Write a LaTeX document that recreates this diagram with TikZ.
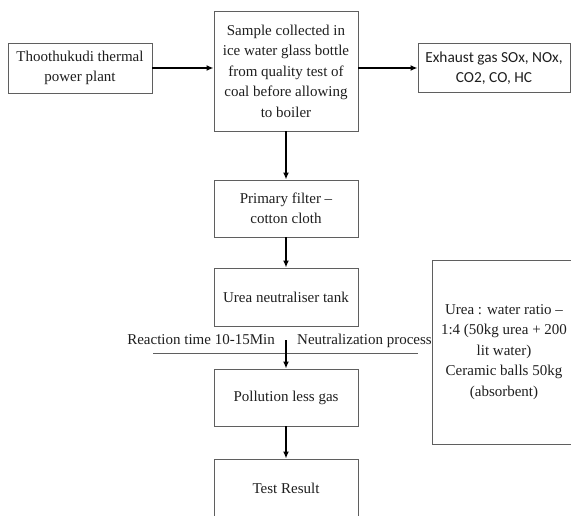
\documentclass[tikz,border=0pt]{standalone}
\usepackage{fontspec}
\setmainfont{Liberation Serif}
\newfontfamily\calibrifont{Carlito}
\definecolor{boxgray}{RGB}{95,95,95}
\definecolor{inkgray}{RGB}{30,30,30}
\usetikzlibrary{arrows.meta,positioning,calc}
\begin{document}
\begin{tikzpicture}[x=0.03cm,y=-0.03cm,
  stage/.style={draw=boxgray,line width=0.7pt,minimum width=4.32cm,align=center,
    text=inkgray,inner sep=0pt,font=\fontsize{12.8}{17.5}\selectfont},
  note/.style={text=inkgray,inner sep=0pt,font=\fontsize{12.8}{17.5}\selectfont},
  flow/.style={-{Latex[length=6pt,width=5pt]},line width=1.2pt},
  feed/.style={flow,line width=1.6pt}]
\clip (0,0) rectangle (571,516);
\node[stage,minimum height=1.5cm] (plant) at (80,68) {Thoothukudi thermal\\power plant};
\node[stage,minimum height=3.6cm] (sample) at (286,71)
  {Sample collected in\\ice water glass bottle\\from quality test of\\coal before allowing\\to boiler};
\node[stage,minimum width=4.56cm,minimum height=1.47cm,font=\calibrifont\fontsize{13.1}{17.5}\selectfont] (exhaust) at (494,68)
  {Exhaust gas SOx, NOx,\\CO2, CO, HC};
\node[stage,minimum height=1.71cm] (filter) at (286,208.5) {Primary filter --\\cotton cloth};
\node[stage,minimum height=1.74cm] (tank) at (286,297) {Urea neutraliser tank};
\node[stage,minimum height=1.71cm] (pollution) at (286,397.5) {Pollution less gas};
\node[stage,minimum height=1.74cm] (result) at (286,488) {Test Result};
\node[stage,minimum height=5.52cm] (ratio) at (504,352)
  {Urea : water ratio --\\1:4 (50kg urea + 200\\lit water)\\Ceramic balls 50kg\\(absorbent)};
\node[note,anchor=base east] (reaction) at (275,344) {Reaction time 10-15Min};
\node[note,anchor=base west] (neutral) at (297,344) {Neutralization process};
\coordinate (lineL) at (153,353);
\coordinate (lineR) at (418,353);
\draw[boxgray,line width=0.7pt] (lineL) -- (lineR);
\draw[feed] (plant.east) -- (plant.east -| sample.west);
\draw[feed] (sample.east |- exhaust.west) -- (exhaust.west);
\draw[flow] (sample) -- (filter);
\draw[flow] (filter) -- (tank);
\draw[flow,shorten <=0.42cm] (tank) -- (pollution);
\draw[flow] (pollution) -- (result);
\end{tikzpicture}
\end{document}
